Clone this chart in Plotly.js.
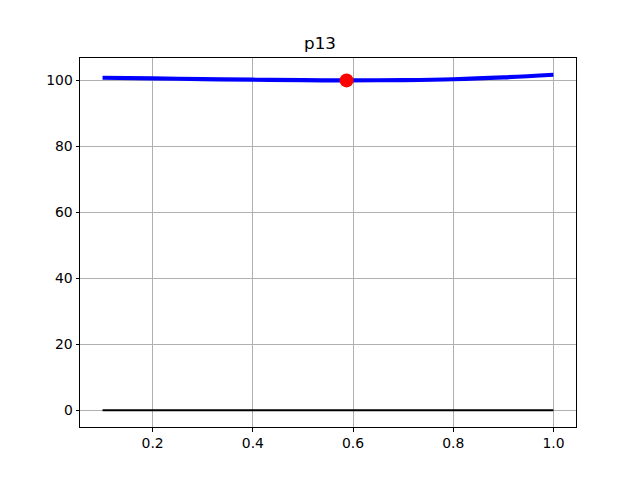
<!DOCTYPE html>
<html>
<head>
<meta charset="utf-8">
<script src="https://cdn.plot.ly/plotly-3.0.1.min.js"></script>
<style>body{margin:0;padding:0;background:#fff}#chart{width:640px;height:480px}</style>
</head>
<body>
<div id="chart"></div>
<script>
const curveX = [0.1, 0.2, 0.3, 0.4, 0.5, 0.587, 0.7, 0.8, 0.9, 1.0];
const curveY = [100.8, 100.6, 100.4, 100.2, 100.05, 100.0, 100.1, 100.35, 100.9, 101.7];
const baseX = [0.1, 1.0];
const baseY = [0, 0];
const markX = [0.587];
const markY = [100];
const xTicks = [0.2, 0.4, 0.6, 0.8, 1.0];
const xTickText = ['0.2', '0.4', '0.6', '0.8', '1.0'];
const yTicks = [0, 20, 40, 60, 80, 100];

const traces = [
  {x: curveX, y: curveY, mode: 'lines', line: {color: '#0000ff', width: 4.2, shape: 'spline'}, hoverinfo: 'skip'},
  {x: baseX, y: baseY, mode: 'lines', line: {color: '#000000', width: 2}, hoverinfo: 'skip'},
  {x: markX, y: markY, mode: 'markers', marker: {color: '#ff0000', size: 14}, hoverinfo: 'skip'}
];

const axisCommon = {
  showline: true, linecolor: '#000', linewidth: 1, mirror: true,
  ticks: 'outside', ticklen: 3.5, tickwidth: 1, tickcolor: '#000',
  showgrid: true, gridcolor: '#b0b0b0', gridwidth: 1, zeroline: false,
  tickfont: {family: 'DejaVu Sans', size: 13.9, color: '#000'}
};

const layout = {
  width: 640, height: 480,
  margin: {l: 80, r: 64, t: 58, b: 53},
  paper_bgcolor: '#fff', plot_bgcolor: '#fff',
  showlegend: false,
  title: {text: 'p13', font: {family: 'DejaVu Sans', size: 16.7, color: '#000'}, x: 0.5, xanchor: 'center', y: 1 - 43/480, yanchor: 'middle'},
  xaxis: Object.assign({}, axisCommon, {range: [0.055, 1.045], tickvals: xTicks, ticktext: xTickText}),
  yaxis: Object.assign({}, axisCommon, {range: [-5.085, 106.785], tickvals: yTicks})
};

Plotly.newPlot('chart', traces, layout, {displayModeBar: false, staticPlot: true});
</script>
</body>
</html>
